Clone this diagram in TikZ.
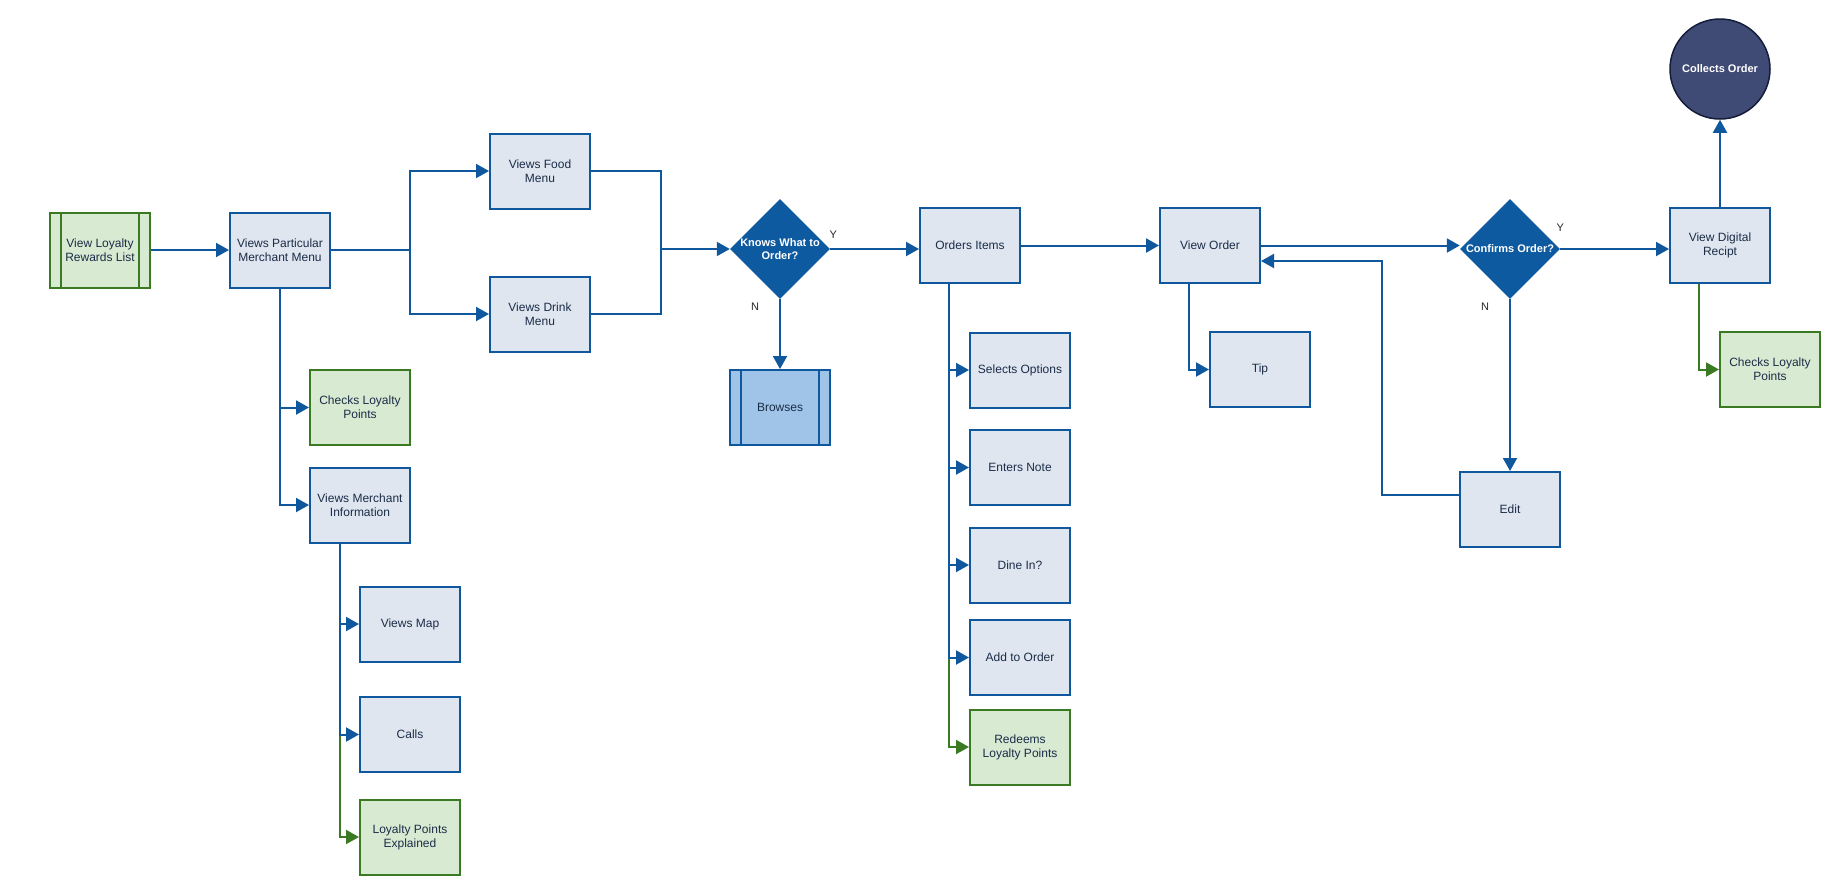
\documentclass[tikz,border=0pt]{standalone}
\usepackage{fontspec}
\setmainfont{Liberation Sans}
\usepackage{xcolor}
\usetikzlibrary{arrows.meta,shapes.geometric}

\definecolor{lineblue}{HTML}{10589E}
\definecolor{boxfill}{HTML}{DFE6F0}
\definecolor{linegreen}{HTML}{3A7A22}
\definecolor{greenfill}{HTML}{D9EAD3}
\definecolor{browsefill}{HTML}{A0C4E8}
\definecolor{decblue}{HTML}{0E5AA0}
\definecolor{circfill}{HTML}{3F4B75}
\definecolor{circline}{HTML}{141D3A}
\definecolor{textnavy}{HTML}{1B2C47}

\begin{document}
\begin{tikzpicture}[x=1pt, y=-1pt,
    >={Triangle[length=13pt,width=14pt]},
    font=\fontsize{12}{14}\selectfont,
    box/.style={draw=lineblue, fill=boxfill, line width=2pt, minimum width=100pt,
        minimum height=75pt, inner sep=2pt, align=center, text=textnavy},
    greenbox/.style={box, draw=linegreen, fill=greenfill},
    subproc/.style={path picture={
        \draw[#1, line width=2pt]
            ([xshift=11pt]path picture bounding box.north west) -- ([xshift=11pt]path picture bounding box.south west)
            ([xshift=-11pt]path picture bounding box.north east) -- ([xshift=-11pt]path picture bounding box.south east);}},
    decision/.style={diamond, fill=decblue, minimum width=100pt, minimum height=100pt, inner sep=0pt},
    dectext/.style={text=white, font=\fontsize{11}{13}\selectfont\bfseries, align=center},
    terminal/.style={circle, fill=circfill, draw=circline, line width=1.5pt, minimum size=100pt,
        text=white, font=\fontsize{11}{13}\selectfont\bfseries},
    flow/.style={->, draw=lineblue, line width=2pt},
    greenflow/.style={flow, draw=linegreen},
    yn/.style={font=\fontsize{11}{13}\selectfont, text=black!85, inner sep=0pt}]

    \useasboundingbox (0,0) rectangle (1840,895);

    % main row
    \node[greenbox, subproc=linegreen] (rewards) at (100,250) {View Loyalty\\Rewards List};
    \node[box] (menu) at (280,250) {Views Particular\\Merchant Menu};
    \node[box] (food) at (540,171) {Views Food\\Menu};
    \node[box] (drink) at (540,314) {Views Drink\\Menu};
    \node[decision] (knows) at (780,249) {};
    \node[dectext] (knowstext) at (knows) {Knows What to\\Order?};
    \node[box] (ordersitems) at (970,245.5) {Orders Items};
    \node[box] (vieworder) at (1210,245.5) {View Order};
    \node[decision] (confirms) at (1510,249) {};
    \node[dectext] (confirmstext) at (confirms) {Confirms Order?};
    \node[box] (receipt) at (1720,245) {View Digital\\Recipt};
    \node[terminal] (collects) at (1720,69) {Collects Order};

    % branches
    \node[box, fill=browsefill, subproc=lineblue] (browses) at (780,407.5) {Browses};
    \node[greenbox] (checkleft) at (360,407.5) {Checks Loyalty\\Points};
    \node[box] (merchinfo) at (360,505) {Views Merchant\\Information};
    \node[box] (map) at (410,624) {Views Map};
    \node[box] (calls) at (410,734.5) {Calls};
    \node[greenbox] (explained) at (410,837) {Loyalty Points\\Explained};
    \node[box] (options) at (1020,370) {Selects Options};
    \node[box] (note) at (1020,467.5) {Enters Note};
    \node[box] (dinein) at (1020,565) {Dine In?};
    \node[box] (addorder) at (1020,657.5) {Add to Order};
    \node[greenbox] (redeems) at (1020,747) {Redeems\\Loyalty Points};
    \node[box] (tip) at (1260,369.5) {Tip};
    \node[box] (edit) at (1510,509.5) {Edit};
    \node[greenbox] (checkright) at (1770,369.5) {Checks Loyalty\\Points};

    \coordinate (fork) at (410,250);
    \coordinate (join) at (661,249);
    \coordinate (editback) at (1382,261);

    % connectors
    \draw[flow] (rewards) -- (menu);
    \draw[flow] (menu.east) -- (fork) |- (food.west);
    \draw[flow] (menu.east) -- (fork) |- (drink.west);
    \draw[flow] (food.east) -| (join) -- (knows.west);
    \draw[flow, -] (drink.east) -| (join);
    \draw[flow] (knows.east) -- (knows.east -| ordersitems.west)
        node[at start, yn, xshift=3pt, yshift=14pt] {Y};
    \draw[flow] (knows) -- (browses)
        node[at start, yn, xshift=-25pt, yshift=-8pt] {N};
    \draw[flow] (menu.south) |- (checkleft.west);
    \draw[flow] (menu.south) |- (merchinfo.west);
    \draw[greenflow] ([xshift=-20pt]merchinfo.south) |- (explained.west);
    \draw[flow] ([xshift=-20pt]merchinfo.south) |- (map.west);
    \draw[flow] ([xshift=-20pt]merchinfo.south) |- (calls.west);
    \draw[greenflow] ([xshift=-21pt]ordersitems.south) |- (redeems.west);
    \foreach \sub in {options,note,dinein,addorder}
        \draw[flow] ([xshift=-21pt]ordersitems.south) |- (\sub.west);
    \draw[flow] (ordersitems) -- (vieworder);
    \draw[flow] ([xshift=-21pt]vieworder.south) |- (tip.west);
    \draw[flow] (vieworder.east) -- (vieworder.east -| confirms.west);
    \draw[flow] (confirms.east) -- (confirms.east -| receipt.west)
        node[at start, yn, yshift=21pt] {Y};
    \draw[flow] (confirms) -- (edit)
        node[at start, yn, xshift=-25pt, yshift=-8pt] {N};
    \draw[flow] ([yshift=15pt]edit.west) -| (editback) -- (editback -| vieworder.east);
    \draw[flow] (receipt) -- (collects);
    \draw[greenflow] ([xshift=-21pt]receipt.south) |- (checkright.west);
\end{tikzpicture}
\end{document}
